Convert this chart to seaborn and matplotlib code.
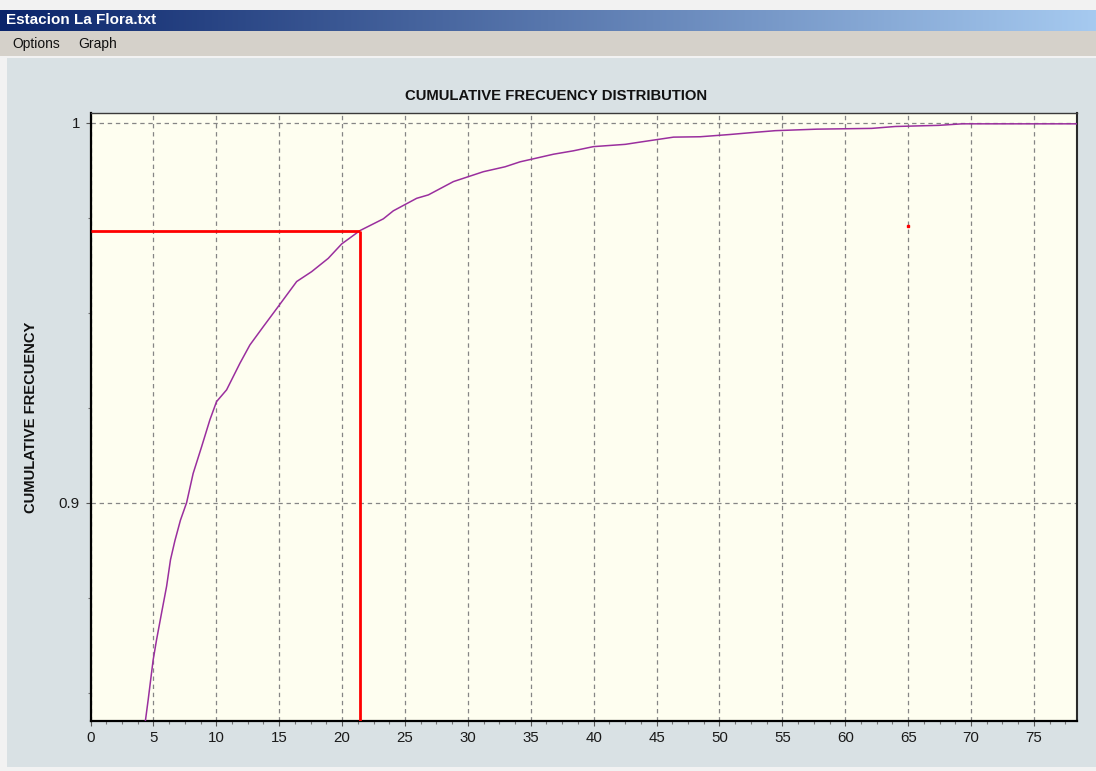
import numpy as np
import pandas as pd
import matplotlib
matplotlib.use("Agg")
import matplotlib.pyplot as plt
from matplotlib.patches import Rectangle
from matplotlib.ticker import MultipleLocator, FixedLocator, FixedFormatter
import seaborn as sns

# ---------------- data ----------------
value_x = [4.30, 4.58, 4.98, 5.25, 5.65, 6.05, 6.36, 6.71, 7.15, 7.64, 8.16, 8.83, 9.49,
           10.02, 10.82, 11.88, 12.67, 13.73, 14.92, 16.39, 17.58, 18.90, 19.97, 21.42,
           23.28, 24.07, 25.93, 26.86, 28.85, 30.04, 31.23, 32.96, 34.15, 35.08, 36.80,
           38.39, 39.98, 42.51, 43.70, 46.35, 48.47, 50.86, 52.60, 54.44, 57.76, 62.10,
           63.98, 67.43, 69.29, 78.40]
cum_freq = [0.8410, 0.8480, 0.8586, 0.8639, 0.8710, 0.8780, 0.8850, 0.8900, 0.8954, 0.9000,
            0.9077, 0.9147, 0.9218, 0.9266, 0.9297, 0.9367, 0.9415, 0.9463, 0.9516, 0.9582,
            0.9608, 0.9643, 0.9681, 0.9716, 0.9747, 0.9768, 0.9801, 0.9810, 0.9845, 0.9858,
            0.9871, 0.9884, 0.9897, 0.9904, 0.9917, 0.9926, 0.9937, 0.9943, 0.9949, 0.9962,
            0.9963, 0.9969, 0.9974, 0.9979, 0.9983, 0.9985, 0.9990, 0.9993, 0.9997, 0.9997]
selected_x = 21.45
selected_y = 0.9716
marker_x = [65.0]
marker_y = [0.9728]
x_ticks = [0, 5, 10, 15, 20, 25, 30, 35, 40, 45, 50, 55, 60, 65, 70, 75]
y_ticks = [0.9, 1.0]
y_tick_labels = ["0.9", "1"]

title_text = "CUMULATIVE FRECUENCY DISTRIBUTION"
ylabel_text = "CUMULATIVE FRECUENCY"
window_title = "Estacion La Flora.txt"
menu_items = ["Options", "Graph"]

df = pd.DataFrame({"x": value_x, "F": cum_freq})

# ---------------- figure ----------------
sns.set_style("ticks")
plt.rcParams["font.family"] = ["Liberation Sans", "DejaVu Sans"]

W, H = 1096, 771
fig = plt.figure(figsize=(W / 100, H / 100), dpi=100, facecolor="#f2f2f2")

def fy(py):
    return 1 - py / H

# background layer axes covering whole figure
bg = fig.add_axes([0, 0, 1, 1], zorder=-10)
bg.set_xlim(0, W)
bg.set_ylim(H, 0)
bg.set_axis_off()
bg.add_patch(Rectangle((7, 58), W - 7, 767 - 58, facecolor="#d9e1e4", edgecolor="none"))
bg.add_patch(Rectangle((0, 31), W, 25, facecolor="#d5d1ca", edgecolor="none"))

# title bar gradient
tb = fig.add_axes([0, fy(31), 1, (31 - 10) / H], zorder=-5)
grad = np.linspace(0, 1, 512)
c0 = np.array([10, 36, 106]) / 255
c1 = np.array([166, 202, 240]) / 255
img = (c0[None, :] * (1 - grad[:, None]) + c1[None, :] * grad[:, None])[None, :, :]
tb.imshow(img, aspect="auto", extent=[0, 1, 0, 1])
tb.set_axis_off()
fig.text(6 / W, fy(20.5), window_title, color="white", fontsize=11,
         fontweight="bold", va="center", ha="left")
fig.text(12 / W, fy(44), menu_items[0], color="#111111", fontsize=10, va="center", ha="left")
fig.text(78 / W, fy(44), menu_items[1], color="#111111", fontsize=10, va="center", ha="left")

# main axes
L, R, T, B = 90.5, 1076.7, 113, 720.7
ax = fig.add_axes([L / W, fy(B), (R - L) / W, (B - T) / H], zorder=2)
ax.set_facecolor("#fefef0")

sns.lineplot(data=df, x="x", y="F", ax=ax, color="#9a2f9e", linewidth=1.1,
             estimator=None, sort=False, zorder=4)
ax.plot([0, selected_x], [selected_y, selected_y], color="#ff0000", lw=2.0,
        solid_capstyle="butt", zorder=5)
ax.plot([selected_x, selected_x], [0.80, selected_y], color="#ff0000", lw=2.0,
        solid_capstyle="butt", zorder=5)
ax.plot(marker_x, marker_y, marker="s", color="#ff0000", markersize=1.6,
        linestyle="none", zorder=5)

ax.set_xlim(0, 78.4)
ax.set_ylim(0.84263, 1.00255)

ax.xaxis.set_major_locator(FixedLocator(x_ticks))
ax.xaxis.set_minor_locator(MultipleLocator(1.25))
ax.yaxis.set_major_locator(FixedLocator(y_ticks))
ax.yaxis.set_major_formatter(FixedFormatter(y_tick_labels))
ax.yaxis.set_minor_locator(MultipleLocator(0.025))

ax.grid(True, which="major", color="#858585", linewidth=0.9, linestyle=(0, (3.5, 3)))
ax.set_axisbelow(True)

ax.tick_params(axis="both", which="major", direction="out", length=3.6, width=0.8,
               color="#555555", labelsize=10.8, labelcolor="#1a1a1a", pad=4)
ax.tick_params(axis="both", which="minor", direction="out", length=2.2, width=0.8,
               color="#777777")

ax.set_xlabel("")
ax.set_ylabel("")

for side in ["left", "bottom"]:
    ax.spines[side].set_color("#000000")
    ax.spines[side].set_linewidth(1.6)
ax.spines["top"].set_color("#3a3a3a")
ax.spines["top"].set_linewidth(1.0)
ax.spines["right"].set_color("#2a2a2a")
ax.spines["right"].set_linewidth(1.5)

fig.text(556.5 / W, fy(96), title_text, fontsize=10.7, fontweight="bold",
         color="#111111", ha="center", va="center")
fig.text(31 / W, fy((T + B) / 2), ylabel_text, fontsize=10.6, fontweight="bold",
         color="#111111", ha="center", va="center", rotation=90)

fig.savefig("out.png", dpi=100, facecolor=fig.get_facecolor())
